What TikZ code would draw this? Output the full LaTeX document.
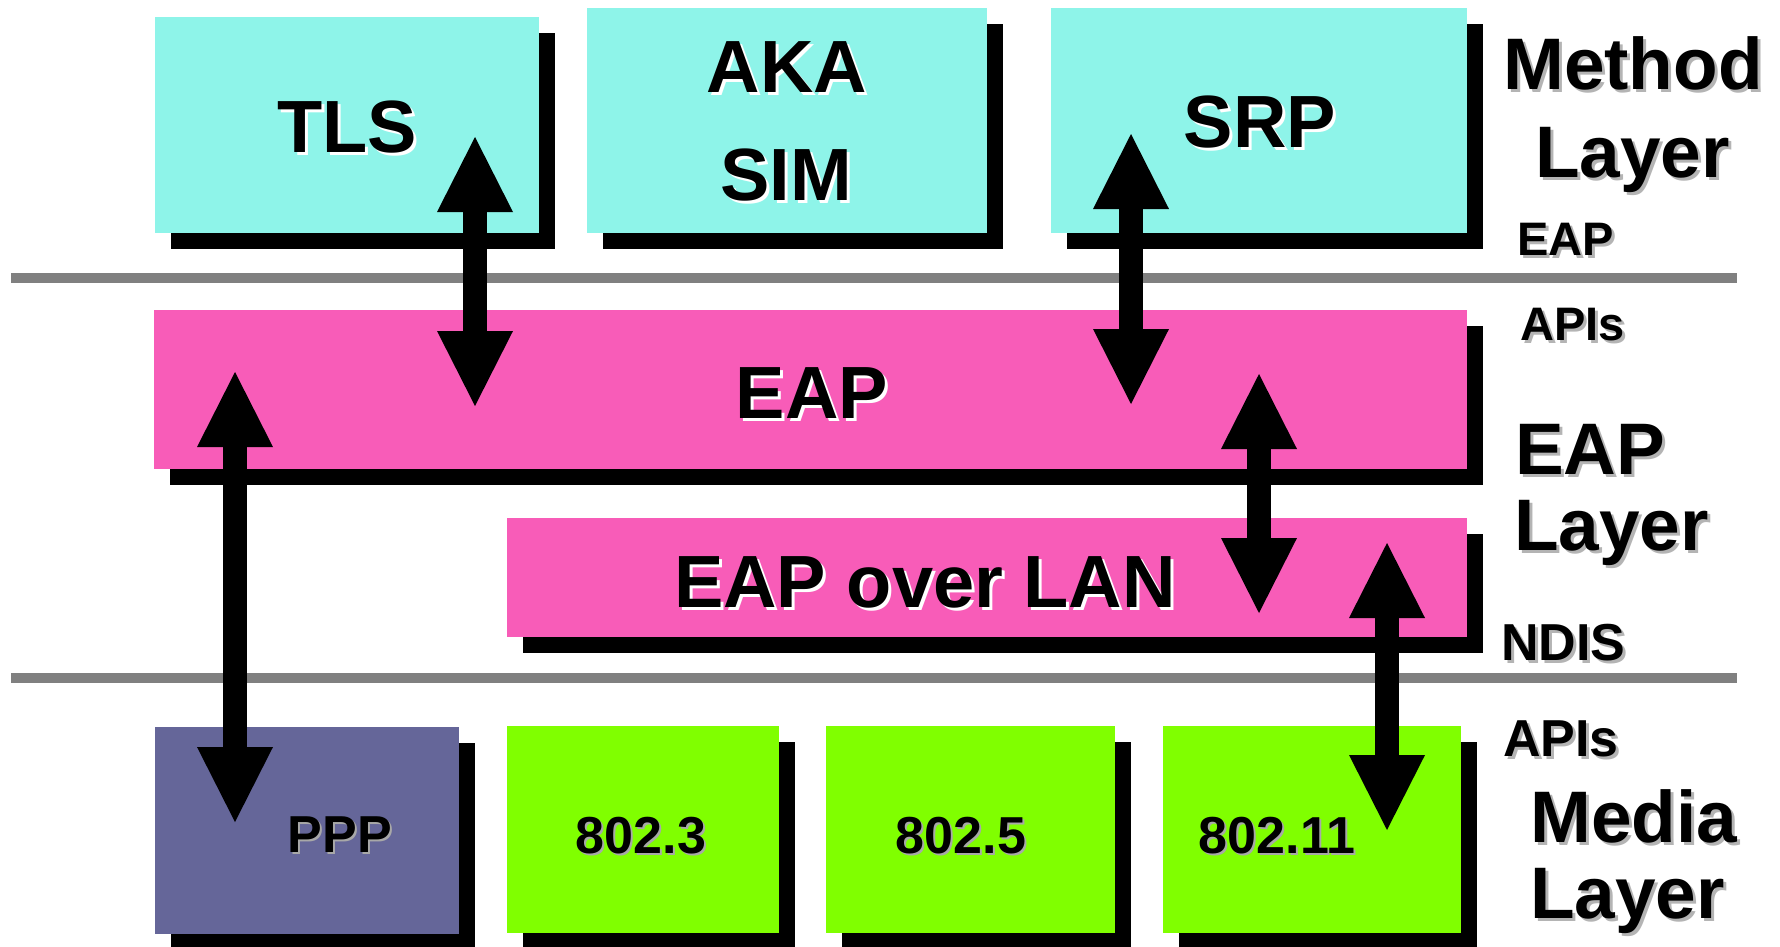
\documentclass[tikz,border=0pt]{standalone}
\usepackage{fontspec}
\setmainfont{Liberation Sans}
\usetikzlibrary{arrows.meta,shadows}

\definecolor{methodcyan}{HTML}{8EF4E9}
\definecolor{eappink}{HTML}{F85CB8}
\definecolor{pppblue}{HTML}{656699}
\definecolor{langreen}{HTML}{80FF00}
\definecolor{rulegray}{HTML}{808080}
\definecolor{labelshade}{HTML}{B4B4B4}
\definecolor{mediashade}{HTML}{A8A8A8}

% text with an offset copy behind it
\newcommand{\shadowed}[3][3pt]{\rlap{\hspace{#1}\raisebox{-#1}{\color{#2}#3}}#3}

\tikzset{
  layerbox/.style={rectangle, inner sep=0pt, outer sep=0pt, draw=none, anchor=north west,
    drop shadow={shadow xshift=16pt, shadow yshift=-16pt, opacity=1, fill=black}},
  bigtext/.style={inner sep=0pt, font=\fontsize{74}{80}\selectfont\bfseries},
  mediatext/.style={inner sep=0pt, font=\fontsize{52}{60}\selectfont\bfseries},
  sidebig/.style={inner sep=0pt, anchor=base west, font=\fontsize{73}{80}\selectfont\bfseries},
  sideapi/.style={inner sep=0pt, anchor=base west, font=\fontsize{47}{55}\selectfont\bfseries},
  sidendis/.style={inner sep=0pt, anchor=base west, font=\fontsize{52}{60}\selectfont\bfseries},
  layerrule/.style={draw=rulegray, line width=10pt},
  twoway/.style={line width=24pt,
    {Triangle[length=75pt,width=76pt,line width=0pt]}-{Triangle[length=75pt,width=76pt,line width=0pt]}},
}

\begin{document}
\begin{tikzpicture}[x=1pt, y=-1pt]
\useasboundingbox (0,0) rectangle (1780,946);

% layer separators
\coordinate (ruleAL) at (11,278);  \coordinate (ruleAR) at (1737,278);
\coordinate (ruleBL) at (11,678);  \coordinate (ruleBR) at (1737,678);
\draw[layerrule] (ruleAL) -- (ruleAR);
\draw[layerrule] (ruleBL) -- (ruleBR);

% method layer
\node[layerbox, fill=methodcyan, minimum width=384pt, minimum height=216pt] (tls) at (155,17) {};
\node[layerbox, fill=methodcyan, minimum width=400pt, minimum height=225pt] (aka) at (587,8) {};
\node[layerbox, fill=methodcyan, minimum width=416pt, minimum height=225pt] (srp) at (1051,8) {};

% EAP layer
\node[layerbox, fill=eappink, minimum width=1313pt, minimum height=159pt] (eap) at (154,310) {};
\node[layerbox, fill=eappink, minimum width=960pt, minimum height=119pt] (eapol) at (507,518) {};

% media layer
\node[layerbox, fill=pppblue, minimum width=304pt, minimum height=207pt] (ppp) at (155,727) {};
\node[layerbox, fill=langreen, minimum width=272pt, minimum height=207pt] (lanA) at (507,726) {};
\node[layerbox, fill=langreen, minimum width=289pt, minimum height=207pt] (lanB) at (826,726) {};
\node[layerbox, fill=langreen, minimum width=298pt, minimum height=207pt] (lanC) at (1163,726) {};

% box captions
\node[bigtext, anchor=base] (tlsT) at (347,152) {\shadowed{white}{TLS}};
\node[bigtext, anchor=base] (akaT) at (787,92) {\shadowed{white}{AKA}};
\node[bigtext, anchor=base] (simT) at (786,200) {\shadowed{white}{SIM}};
\node[bigtext, anchor=base] (srpT) at (1260,147) {\shadowed{white}{SRP}};
\node[bigtext, anchor=base] (eapT) at (812,418) {\shadowed{white}{EAP}};
\node[bigtext, anchor=base] (eapolT) at (925,607) {\shadowed{white}{EAP over LAN}};
\node[mediatext, anchor=base] (pppT) at (340,852) {\shadowed[2pt]{mediashade}{PPP}};
\node[mediatext, anchor=base] (lanAT) at (641,853) {\shadowed[2pt]{mediashade}{802.3}};
\node[mediatext, anchor=base] (lanBT) at (961,853) {\shadowed[2pt]{mediashade}{802.5}};
\node[mediatext, anchor=base] (lanCT) at (1277,853) {\shadowed[2pt]{mediashade}{802.11}};

% layer names and interfaces
\node[sidebig] (methodL) at (1503,89) {\shadowed{labelshade}{Method}};
\node[sidebig] (methodL2) at (1535,177) {\shadowed{labelshade}{Layer}};
\node[sideapi] (eapApiA) at (1517,255) {\shadowed{labelshade}{EAP}};
\node[sideapi] (eapApiB) at (1520,340) {\shadowed{labelshade}{APIs}};
\node[sidebig] (eapL) at (1515,474) {\shadowed{labelshade}{EAP}};
\node[sidebig] (eapL2) at (1514,550) {\shadowed{labelshade}{Layer}};
\node[sidendis] (ndisA) at (1501,660) {\shadowed{labelshade}{NDIS}};
\node[sidendis] (ndisB) at (1503,756) {\shadowed{labelshade}{APIs}};
\node[sidebig] (mediaL) at (1530,842) {\shadowed{labelshade}{Media}};
\node[sidebig] (mediaL2) at (1530,918) {\shadowed{labelshade}{Layer}};

% arrow end points
\coordinate (tlsUp) at (475,137);   \coordinate (tlsDown) at (475,406);
\coordinate (srpUp) at (1131,134);  \coordinate (srpDown) at (1131,404);
\coordinate (pppUp) at (235,372);   \coordinate (pppDown) at (235,822);
\coordinate (eapUp) at (1259,374);  \coordinate (eapDown) at (1259,613);
\coordinate (wlanUp) at (1387,543); \coordinate (wlanDown) at (1387,830);

\draw[twoway] (tlsUp) -- (tlsDown);
\draw[twoway] (srpUp) -- (srpDown);
\draw[twoway] (pppUp) -- (pppDown);
\draw[twoway] (eapUp) -- (eapDown);
\draw[twoway] (wlanUp) -- (wlanDown);
\end{tikzpicture}
\end{document}
